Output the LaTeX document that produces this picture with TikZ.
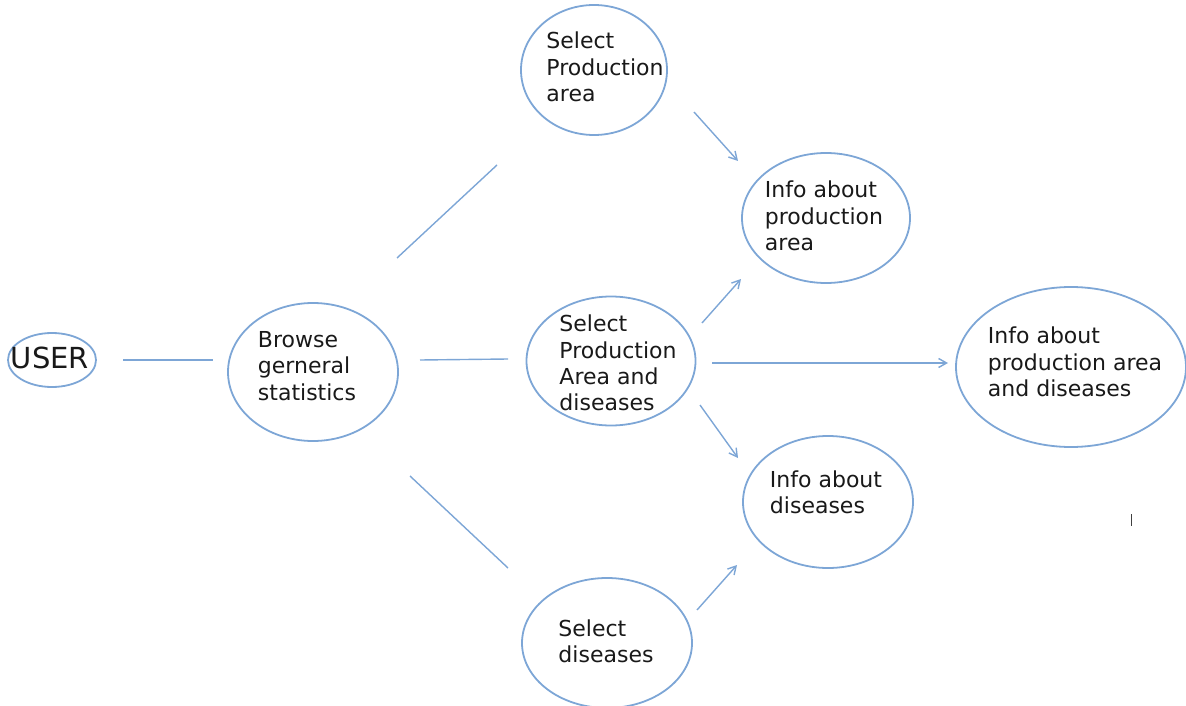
\documentclass[tikz,border=0pt]{standalone}
\usepackage{fontspec}
\setmainfont{DejaVu Sans}
\usetikzlibrary{arrows.meta,shapes.geometric}
\definecolor{edge}{RGB}{125,166,214}
\begin{document}
\begin{tikzpicture}[x=1pt,y=-1pt,
  bubble/.style={draw=edge, line width=1.8pt, ellipse, inner sep=0pt},
  txt/.style={align=left, inner sep=0pt, text=black!90, font=\fontsize{22}{26.3}\selectfont},
  link/.style={draw=edge, line width=1.4pt},
  arr/.style={link, -{Straight Barb[length=8pt,width=9pt]}}]
\useasboundingbox (0,0) rectangle (1186,706);
% ellipses
\node[bubble, minimum width=88pt, minimum height=54pt] (user) at (52,360) {};
\node[bubble, minimum width=170pt, minimum height=138pt] (browse) at (313,372) {};
\node[bubble, minimum width=146pt, minimum height=130pt] (spa) at (594,70) {};
\node[bubble, minimum width=168pt, minimum height=130pt] (ipa) at (826,218) {};
\node[bubble, minimum width=169pt, minimum height=129pt] (spad) at (611,361) {};
\node[bubble, minimum width=230pt, minimum height=160pt] (ipad) at (1071,367) {};
\node[bubble, minimum width=170pt, minimum height=132pt] (id) at (828,502) {};
\node[bubble, minimum width=170pt, minimum height=130pt] (sd) at (607,643) {};
% texts
\node[txt, font=\fontsize{29}{30}\selectfont] (usert) at (50,358) {USER};
\node[txt] (browset) at (307,366) {Browse\\gerneral\\statistics};
\node[txt] (spat) at (605,67) {Select\\Production\\area};
\node[txt] (ipat) at (824,216) {Info about\\production\\area};
\node[txt] (spadt) at (618,363) {Select\\Production\\Area and\\diseases};
\node[txt] (ipadt) at (1075,362) {Info about\\production area\\and diseases};
\node[txt] (idt) at (826,492) {Info about\\diseases};
\node[txt] (sdt) at (606,641) {Select\\diseases};
% connector end points
\coordinate (c1a) at (123,360); \coordinate (c1b) at (213,360);
\coordinate (c2a) at (397,258); \coordinate (c2b) at (497,165);
\coordinate (c3a) at (420,360); \coordinate (c3b) at (508,359);
\coordinate (c4a) at (410,476); \coordinate (c4b) at (508,568);
\coordinate (a1a) at (694,112); \coordinate (a1b) at (738,161);
\coordinate (a2a) at (702,323); \coordinate (a2b) at (741,279);
\coordinate (a3a) at (712,363); \coordinate (a3b) at (948,363);
\coordinate (a4a) at (700,405); \coordinate (a4b) at (738,458);
\coordinate (a5a) at (697,610); \coordinate (a5b) at (737,565);
% connectors
\draw[link] (c1a) -- (c1b);
\draw[link] (c2a) -- (c2b);
\draw[link] (c3a) -- (c3b);
\draw[link] (c4a) -- (c4b);
\draw[arr] (a1a) -- (a1b);
\draw[arr] (a2a) -- (a2b);
\draw[arr] (a3a) -- (a3b);
\draw[arr] (a4a) -- (a4b);
\draw[arr] (a5a) -- (a5b);
% stray cursor mark
\coordinate (m1) at (1131,514); \coordinate (m2) at (1131,526);
\draw[black!75, line width=1pt] (m1) -- (m2);
\end{tikzpicture}
\end{document}
